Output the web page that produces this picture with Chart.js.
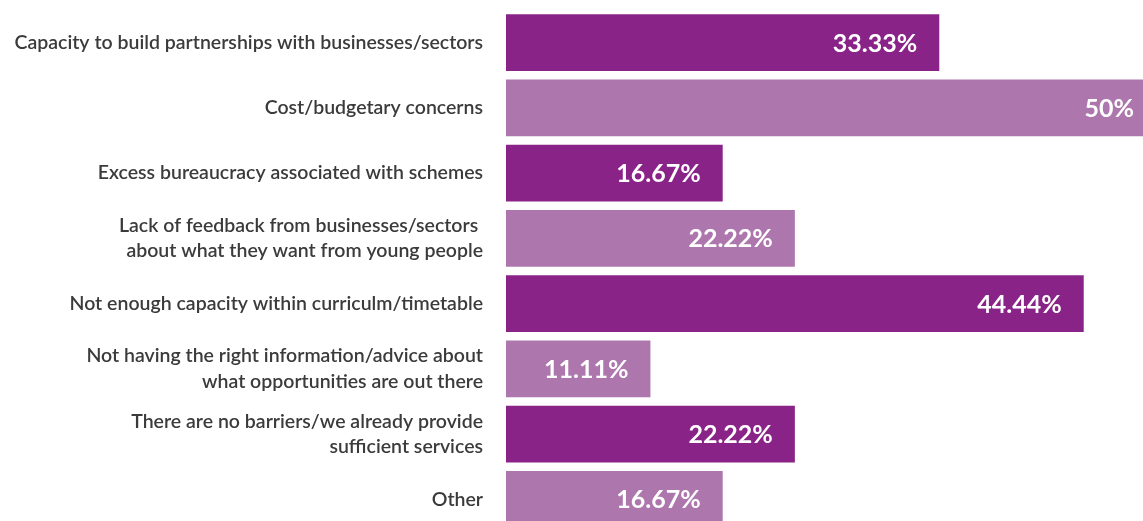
<!DOCTYPE html>
<html>
<head>
<meta charset="utf-8">
<script src="https://cdn.jsdelivr.net/npm/chart.js@4"></script>
<style>
    html, body { margin: 0; padding: 0; background: #fff; overflow: hidden; }
    #wrap { position: relative; width: 1156px; height: 532px; }
</style>
</head>
<body>
<div id="wrap"><canvas id="myChart"></canvas></div>
<script>
const labels = [
    'Capacity to build partnerships with businesses/sectors',
    'Cost/budgetary concerns',
    'Excess bureaucracy associated with schemes',
    ['Lack of feedback from businesses/sectors ', 'about what they want from young people'],
    'Not enough capacity within curriculm/timetable',
    ['Not having the right information/advice about', 'what opportunities are out there'],
    ['There are no barriers/we already provide', 'sufficient services'],
    'Other'
];
const values = [33.33, 50, 16.67, 22.22, 44.44, 11.11, 22.22, 16.67];
const colors = ['#8a2388', '#ad77ae'];

// writes the percentage inside the end of each bar
const barLabels = {
    id: 'barLabels',
    afterDatasetsDraw(chart) {
        const ctx = chart.ctx;
        const meta = chart.getDatasetMeta(0);
        ctx.save();
        ctx.fillStyle = '#ffffff';
        ctx.font = 'bold 25px Lato';
        ctx.textAlign = 'right';
        ctx.textBaseline = 'middle';
        meta.data.forEach(function(bar, i) {
            ctx.fillText(values[i] + '%', bar.x - 22, bar.y + 1);
        });
        ctx.restore();
    }
};

document.addEventListener('DOMContentLoaded', function() {
    const ctx = document.getElementById('myChart');
    new Chart(ctx, {
        type: 'bar',
        data: {
            labels: labels,
            datasets: [{
                data: values,
                backgroundColor: values.map(function(v, i) { return colors[i % 2]; }),
                borderWidth: 0,
                barPercentage: 0.87,
                categoryPercentage: 1
            }]
        },
        options: {
            indexAxis: 'y',
            responsive: true,
            maintainAspectRatio: false,
            animation: false,
            layout: { padding: { top: 10, right: 0, bottom: 0, left: 0 } },
            plugins: {
                legend: { display: false },
                tooltip: { enabled: false }
            },
            scales: {
                x: {
                    display: false,
                    min: 0,
                    max: 50
                },
                y: {
                    grid: { display: false, drawTicks: false },
                    border: { display: false },
                    ticks: {
                        padding: 23,
                        color: '#3b3b3b',
                        font: { family: 'Lato', size: 19.5, weight: '600', lineHeight: 1.3 }
                    },
                    afterFit: function(scale) {
                        scale.width = 506;
                        scale.paddingTop = 0;
                        scale.paddingBottom = 0;
                    }
                }
            }
        },
        plugins: [barLabels]
    });
});
</script>
</body>
</html>
